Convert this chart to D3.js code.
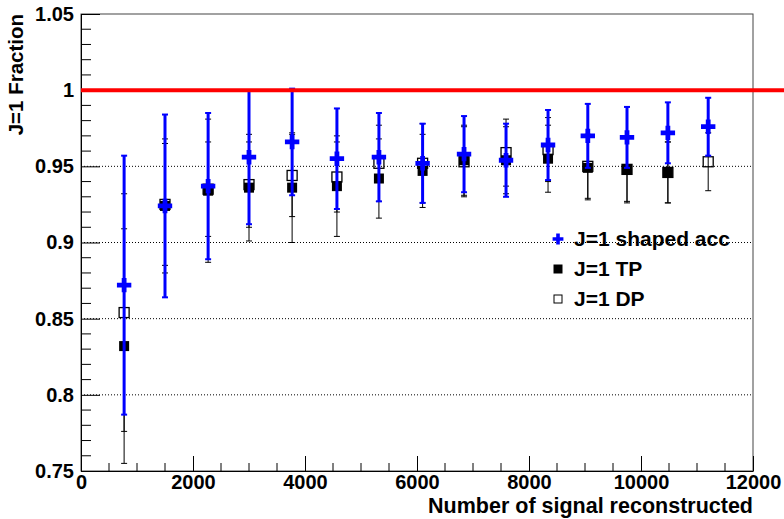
<!DOCTYPE html>
<html>
<head>
<meta charset="utf-8">
<script src="https://cdn.jsdelivr.net/npm/d3@7"></script>
<style>
  body { margin: 0; background: #fff; }
  text { font-family: "Liberation Sans", Arial, sans-serif; font-weight: bold; }
</style>
</head>
<body>
<div id="chart"></div>
<script>
'use strict';

// mean number of reconstructed signal events per point
const xVals = [770, 1500, 2270, 3000, 3770, 4570, 5320, 6100, 6840, 7590, 8340, 9050, 9750, 10480, 11200];

// J=1 shaped acc
const accVals = [0.872, 0.924, 0.937, 0.956, 0.966, 0.955, 0.956, 0.952, 0.958, 0.954, 0.964, 0.970, 0.969, 0.972, 0.976];
const accErr  = [0.085, 0.060, 0.048, 0.044, 0.035, 0.033, 0.029, 0.026, 0.025, 0.024, 0.023, 0.021, 0.020, 0.020, 0.019];

// J=1 TP (last point not shown)
const tpVals = [0.832, 0.924, 0.934, 0.936, 0.936, 0.937, 0.942, 0.947, 0.954, 0.954, 0.955, 0.949, 0.948, 0.946, null];
const tpErr  = [0.077, 0.044, 0.047, 0.035, 0.036, 0.033, 0.026, 0.024, 0.023, 0.022, 0.022, 0.021, 0.022, 0.020, null];

// J=1 DP
const dpVals = [0.854, 0.925, 0.935, 0.938, 0.944, 0.943, 0.952, 0.952, 0.953, 0.959, 0.961, 0.950, 0.948, 0.946, 0.953];
const dpErr  = [0.078, 0.040, 0.031, 0.028, 0.027, 0.023, 0.025, 0.026, 0.023, 0.022, 0.021, 0.021, 0.021, 0.020, 0.019];

const yTicks = [0.75, 0.8, 0.85, 0.9, 0.95, 1, 1.05];
const xTicks = [0, 2000, 4000, 6000, 8000, 10000, 12000];
const gridVals = [0.8, 0.85, 0.9, 0.95];
const refLine = 1;

const legendNames = ['J=1 shaped acc', 'J=1 TP', 'J=1 DP'];

const width = 784, height = 519;
const padL = 81, padR = 753, padT = 14, padB = 471;

let x = d3.scaleLinear().domain([0, 12000]).range([padL, padR]);
let y = d3.scaleLinear().domain([0.75, 1.05]).range([padB, padT]);

let svg = d3.select('#chart').append('svg')
  .attr('width', width)
  .attr('height', height);

// grid
svg.append('g').selectAll('line')
  .data(gridVals)
  .enter().append('line')
    .attr('x1', padL).attr('x2', padR)
    .attr('y1', d => y(d)).attr('y2', d => y(d))
    .attr('stroke', '#000')
    .attr('stroke-width', 1)
    .attr('stroke-dasharray', '1,2');

// frame
svg.append('rect')
  .attr('x', padL).attr('y', padT)
  .attr('width', padR - padL).attr('height', padB - padT)
  .attr('fill', 'none')
  .attr('stroke', '#444')
  .attr('stroke-width', 1);

// y axis, ticks point inside
let yAxis = d3.axisLeft(y)
  .tickValues(yTicks)
  .tickFormat(d => String(+d.toFixed(2)))
  .tickSize(-19)
  .tickSizeOuter(0)
  .tickPadding(7);

let gy = svg.append('g')
  .attr('transform', 'translate(' + padL + ',0)')
  .call(yAxis);
gy.selectAll('text').attr('font-size', 20).attr('fill', '#000');
gy.select('.domain').attr('stroke', '#000');

let yMinor = d3.range(0.75, 1.0501, 0.01).filter(d => !yTicks.some(t => Math.abs(t - d) < 1e-6));
svg.append('g').selectAll('line')
  .data(yMinor)
  .enter().append('line')
    .attr('x1', padL).attr('x2', padL + 10)
    .attr('y1', d => y(d)).attr('y2', d => y(d))
    .attr('stroke', '#000');

// x axis
let xAxis = d3.axisBottom(x)
  .tickValues(xTicks)
  .tickFormat(d3.format('d'))
  .tickSize(-15)
  .tickSizeOuter(0)
  .tickPadding(4);

let gx = svg.append('g')
  .attr('transform', 'translate(0,' + padB + ')')
  .call(xAxis);
gx.selectAll('text').attr('font-size', 20).attr('fill', '#000');
gx.select('.domain').attr('stroke', '#000');

let xMinor = d3.range(500, 12000, 500).filter(d => d % 2000 !== 0);
svg.append('g').selectAll('line')
  .data(xMinor)
  .enter().append('line')
    .attr('x1', d => x(d)).attr('x2', d => x(d))
    .attr('y1', padB).attr('y2', padB - 8)
    .attr('stroke', '#000');

// axis titles
svg.append('text')
  .attr('x', padR).attr('y', 513)
  .attr('text-anchor', 'end')
  .attr('font-size', 21.5)
  .text('Number of signal reconstructed');

svg.append('text')
  .attr('transform', 'translate(23,' + padT + ') rotate(-90)')
  .attr('text-anchor', 'end')
  .attr('font-size', 20.5)
  .text('J=1 Fraction');

function makeSeries(vals, errs) {
  let out = [];
  vals.forEach((v, i) => {
    if (v !== null) out.push({ x: xVals[i], v: v, e: errs[i] });
  });
  return out;
}

function drawErrors(data, color, lw, cap) {
  let g = svg.append('g');
  g.selectAll('line.bar')
    .data(data)
    .enter().append('line')
      .attr('class', 'bar')
      .attr('x1', d => x(d.x)).attr('x2', d => x(d.x))
      .attr('y1', d => y(Math.min(d.v + d.e, 1.05))).attr('y2', d => y(d.v - d.e))
      .attr('stroke', color).attr('stroke-width', lw);
  [1, -1].forEach(s => {
    g.selectAll('line.cap' + (s > 0 ? 'u' : 'd'))
      .data(data.filter(d => d.v + s * d.e <= 1.05))
      .enter().append('line')
        .attr('class', 'cap' + (s > 0 ? 'u' : 'd'))
        .attr('x1', d => x(d.x) - cap).attr('x2', d => x(d.x) + cap)
        .attr('y1', d => y(d.v + s * d.e)).attr('y2', d => y(d.v + s * d.e))
        .attr('stroke', color).attr('stroke-width', lw > 1 ? 2 : 1);
  });
}

let dp = makeSeries(dpVals, dpErr);
let tp = makeSeries(tpVals, tpErr);
let acc = makeSeries(accVals, accErr);

drawErrors(dp, '#000', 1, 3);
svg.append('g').selectAll('rect')
  .data(dp)
  .enter().append('rect')
    .attr('x', d => x(d.x) - 5).attr('y', d => y(d.v) - 5)
    .attr('width', 10).attr('height', 10)
    .attr('fill', 'none').attr('stroke', '#000').attr('stroke-width', 1.3);

drawErrors(tp, '#000', 1, 3);
svg.append('g').selectAll('rect')
  .data(tp)
  .enter().append('rect')
    .attr('x', d => x(d.x) - 5).attr('y', d => y(d.v) - 5)
    .attr('width', 10).attr('height', 10)
    .attr('fill', '#000');

drawErrors(acc, '#0000ff', 3, 3);
svg.append('g').selectAll('path')
  .data(acc)
  .enter().append('path')
    .attr('transform', d => 'translate(' + x(d.x) + ',' + y(d.v) + ')')
    .attr('d', d3.symbol(d3.symbolCross, 115))
    .attr('fill', '#0000ff');

// reference line at 1
svg.append('line')
  .attr('x1', padL).attr('x2', width)
  .attr('y1', y(refLine)).attr('y2', y(refLine))
  .attr('stroke', '#ff0000')
  .attr('stroke-width', 4);

// legend
let legend = svg.append('g').attr('transform', 'translate(558,239)');
legendNames.forEach((name, i) => {
  let row = legend.append('g').attr('transform', 'translate(0,' + (i * 30) + ')');
  if (i === 0) {
    row.append('path').attr('d', d3.symbol(d3.symbolCross, 65)).attr('fill', '#0000ff');
  } else {
    row.append('rect')
      .attr('x', -4).attr('y', -4).attr('width', 8).attr('height', 8)
      .attr('fill', i === 1 ? '#000' : '#fff')
      .attr('stroke', '#000').attr('stroke-width', 1);
  }
  row.append('text')
    .attr('x', 16).attr('y', 7)
    .attr('font-size', 21)
    .text(name);
});
</script>
</body>
</html>
